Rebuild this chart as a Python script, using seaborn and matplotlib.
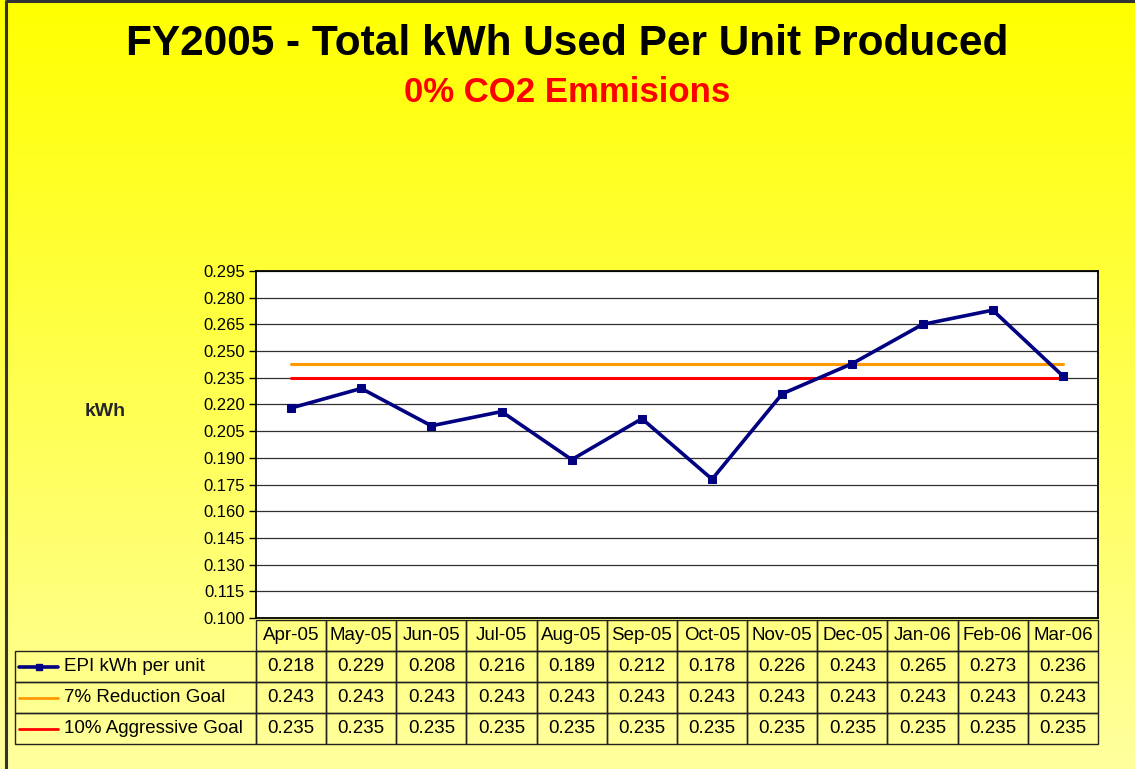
import numpy as np
import pandas as pd
import matplotlib
matplotlib.use("Agg")
import matplotlib.pyplot as plt
import seaborn as sns
from matplotlib.lines import Line2D

months = ["Apr-05", "May-05", "Jun-05", "Jul-05", "Aug-05", "Sep-05",
          "Oct-05", "Nov-05", "Dec-05", "Jan-06", "Feb-06", "Mar-06"]
epi = [0.218, 0.229, 0.208, 0.216, 0.189, 0.212, 0.178, 0.226, 0.243, 0.265, 0.273, 0.236]
goal_7 = [0.243] * 12
goal_10 = [0.235] * 12
series_names = ["EPI kWh per unit", "7% Reduction Goal", "10% Aggressive Goal"]
series_colors = ["#000080", "#FF9900", "#FF0000"]
yticks = np.arange(0.100, 0.2951, 0.015)

df = pd.DataFrame({"Month": months * 3,
                   "kWh": epi + goal_7 + goal_10,
                   "Series": [series_names[0]] * 12 + [series_names[1]] * 12 + [series_names[2]] * 12})

sns.set_theme(style="white")
plt.rcParams["font.family"] = ["Liberation Sans", "DejaVu Sans"]

W, H = 1135, 769
fig = plt.figure(figsize=(W / 100, H / 100), dpi=100)

# yellow gradient background
bg = fig.add_axes([0, 0, 1, 1], zorder=-10)
grad = np.linspace(0, 1, 256)[:, None]
img = np.ones((256, 2, 3))
img[:, :, 2] = (grad * 0.62)
bg.imshow(img, aspect="auto", extent=[0, 1, 0, 1], origin="upper")
bg.set_xlim(0, 1)
bg.set_ylim(0, 1)
bg.axis("off")
bg.plot([0.005, 0.005, 1], [0, 0.999, 0.999], color="#333333", lw=2.2)

# plot area in pixel coordinates
x0, x1, ytop, ybot = 256, 1098, 271, 618
ax = fig.add_axes([x0 / W, 1 - ybot / H, (x1 - x0) / W, (ybot - ytop) / H])
ax.set_facecolor("white")

# goal lines first, then EPI on top
sns.lineplot(data=df[df.Series == series_names[1]], x="Month", y="kWh", color=series_colors[1],
             lw=2.2, ax=ax, sort=False)
sns.lineplot(data=df[df.Series == series_names[2]], x="Month", y="kWh", color=series_colors[2],
             lw=2.2, ax=ax, sort=False)
sns.lineplot(data=df[df.Series == series_names[0]], x="Month", y="kWh", color=series_colors[0],
             lw=2.6, marker="s", markersize=6, markeredgecolor=series_colors[0], ax=ax, sort=False)

ax.set_xlim(-0.5, len(months) - 0.5)
ax.set_ylim(0.100, 0.295)
ax.set_yticks(yticks)
ax.set_yticklabels([f"{v:.3f}" for v in yticks], fontsize=12, color="black")
ax.set_xticks([])
ax.set_xlabel("")
ax.set_ylabel("")
ax.tick_params(axis="y", length=5, width=1, color="black", direction="out", left=True, pad=3)
ax.yaxis.grid(True, color="#303030", lw=0.9)
ax.set_axisbelow(True)
for s in ax.spines.values():
    s.set_color("black")
    s.set_linewidth(1.3)

# data table under the plot (first column holds the series names)
label_w = (x0 - 15) / (x1 - x0)
cell_text = [[series_names[0]] + [f"{v:.3f}" for v in epi],
             [series_names[1]] + [f"{v:.3f}" for v in goal_7],
             [series_names[2]] + [f"{v:.3f}" for v in goal_10]]
tb_top = -(620 - ybot) / (ybot - ytop)
tb_bot = -(744 - ybot) / (ybot - ytop)
tab = ax.table(cellText=cell_text, colLabels=[""] + months,
               colWidths=[label_w] + [1 / 12] * 12, cellLoc="center",
               bbox=[-label_w, tb_bot, 1 + label_w, tb_top - tb_bot])
tab.auto_set_font_size(False)
tab.set_fontsize(13.5)
for (r, c), cell in tab.get_celld().items():
    cell.set_facecolor("none")
    cell.set_edgecolor("#222222")
    cell.set_linewidth(1.0)
    cell.get_text().set_color("black")
    if c == 0:
        cell._loc = "left"
        cell.PAD = (64 - 15) / (x0 - 15)
        cell.get_text().set_ha("left")
        if r == 0:
            cell.set_linewidth(0)

# legend keys in the row label cells
row_h = (744 - 620) / 4
for i, col in enumerate(series_colors):
    yc = 1 - (620 + row_h * (i + 1.5)) / H
    fig.add_artist(Line2D([19 / W, 58 / W], [yc, yc], color=col, lw=2.6 if i == 0 else 2))
    if i == 0:
        fig.add_artist(Line2D([38.5 / W], [yc], color=col, marker="s", markersize=5, lw=0))

fig.text(105 / W, 1 - 411 / H, "kWh", ha="center", va="center", fontsize=14, fontweight="bold")
fig.text(0.5, 1 - 44 / H, "FY2005 - Total kWh Used Per Unit Produced", ha="center", va="center",
         fontsize=30.5, fontweight="bold", color="black")
fig.text(0.5, 1 - 92 / H, "0% CO2 Emmisions", ha="center", va="center",
         fontsize=25, fontweight="bold", color="#FF0000")

fig.savefig("out.png", dpi=100)
